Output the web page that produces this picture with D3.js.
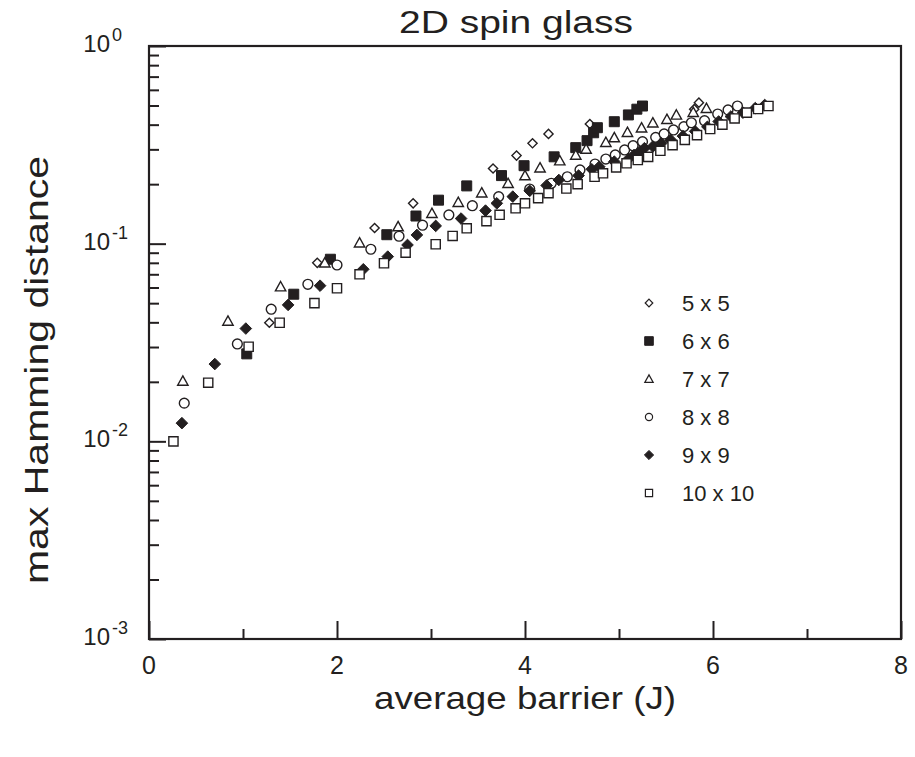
<!DOCTYPE html>
<html>
<head>
<meta charset="utf-8">
<script src="https://cdn.jsdelivr.net/npm/d3@7"></script>
<style>
  html, body { margin: 0; padding: 0; background: #fff; }
  svg { display: block; font-family: "Liberation Sans", Arial, sans-serif; }
</style>
</head>
<body>
<svg id="chart" width="915" height="757"></svg>
<script>
// ---------- data ----------
const seriesNames = ["5 x 5", "6 x 6", "7 x 7", "8 x 8", "9 x 9", "10 x 10"];

const x5 = [1.28, 1.79, 2.40, 2.81, 3.66, 3.91, 4.08, 4.25, 4.69, 5.80, 5.85];
const y5 = [0.0398, 0.080, 0.120, 0.160, 0.240, 0.279, 0.322, 0.359, 0.403, 0.479, 0.517];

const x6 = [1.04, 1.54, 1.93, 2.53, 2.84, 3.08, 3.38, 3.75, 3.99, 4.31, 4.54, 4.66, 4.73, 4.77, 4.95, 5.10, 5.19, 5.25];
const y6 = [0.0277, 0.0555, 0.0834, 0.111, 0.138, 0.166, 0.196, 0.221, 0.248, 0.275, 0.306, 0.332, 0.364, 0.386, 0.414, 0.448, 0.479, 0.497];

const x7 = [0.36, 0.84, 1.40, 1.87, 2.24, 2.65, 3.01, 3.29, 3.54, 3.82, 4.00, 4.16, 4.37, 4.54, 4.65, 4.86, 4.95, 5.09, 5.24, 5.36, 5.51, 5.61, 5.79, 5.93];
const y7 = [0.0202, 0.0406, 0.0606, 0.080, 0.101, 0.122, 0.1425, 0.162, 0.181, 0.202, 0.221, 0.242, 0.263, 0.281, 0.301, 0.326, 0.344, 0.366, 0.386, 0.409, 0.426, 0.448, 0.462, 0.484];

const x8 = [0.375, 0.94, 1.30, 1.69, 2.00, 2.36, 2.66, 2.91, 3.19, 3.44, 3.72, 4.05, 4.28, 4.45, 4.585, 4.745, 4.86, 4.96, 5.06, 5.15, 5.25, 5.39, 5.48, 5.58, 5.69, 5.77, 5.91, 6.05, 6.16, 6.26];
const y8 = [0.0156, 0.0311, 0.0466, 0.0623, 0.078, 0.0937, 0.109, 0.124, 0.1397, 0.1556, 0.173, 0.189, 0.202, 0.218, 0.236, 0.253, 0.268, 0.281, 0.298, 0.313, 0.328, 0.345, 0.359, 0.376, 0.391, 0.409, 0.419, 0.453, 0.475, 0.497];

const x9 = [0.35, 0.70, 1.03, 1.48, 1.82, 2.28, 2.54, 2.75, 2.85, 3.05, 3.32, 3.58, 3.70, 3.87, 4.05, 4.23, 4.36, 4.57, 4.71, 4.79, 4.95, 5.10, 5.16, 5.22, 5.27, 5.36, 5.45, 5.55, 5.68, 5.81, 5.94, 6.06, 6.19, 6.32, 6.45, 6.55];
const y9 = [0.01236, 0.0246, 0.0372, 0.049, 0.0613, 0.0742, 0.086, 0.0985, 0.1107, 0.123, 0.134, 0.147, 0.160, 0.173, 0.185, 0.197, 0.210, 0.221, 0.238, 0.245, 0.260, 0.268, 0.281, 0.292, 0.304, 0.310, 0.322, 0.335, 0.350, 0.370, 0.390, 0.415, 0.440, 0.460, 0.485, 0.503];

const x10 = [0.26, 0.63, 1.06, 1.39, 1.76, 2.00, 2.24, 2.50, 2.73, 3.05, 3.23, 3.38, 3.59, 3.73, 3.90, 4.00, 4.14, 4.25, 4.44, 4.56, 4.74, 4.83, 4.97, 5.08, 5.20, 5.31, 5.44, 5.57, 5.70, 5.83, 5.97, 6.10, 6.23, 6.36, 6.48, 6.59];
const y10 = [0.0100, 0.0198, 0.0301, 0.0398, 0.050, 0.0595, 0.070, 0.0796, 0.090, 0.0993, 0.1094, 0.1196, 0.130, 0.140, 0.151, 0.160, 0.170, 0.180, 0.190, 0.200, 0.218, 0.227, 0.243, 0.255, 0.265, 0.275, 0.295, 0.315, 0.335, 0.354, 0.380, 0.400, 0.430, 0.460, 0.480, 0.497];

const xMajorTicks = [0, 2, 4, 6, 8];
const xMinorTicks = [1, 3, 5, 7];
const yMajorExponents = [0, -1, -2, -3];

const titleText = "2D spin glass";
const xLabelText = "average barrier (J)";
const yLabelText = "max Hamming distance";

// ---------- layout ----------
const svg = d3.select("#chart");
const L = 149, R = 901, T = 46, B = 639;
const ink = "#231f20";

const x = d3.scaleLinear().domain([0, 8]).range([L, R]);
const y = d3.scaleLog().domain([1e-3, 1]).range([B, T]);

// minor y ticks
const yMinor = [];
for (let e = -3; e < 0; e++) for (let m = 2; m <= 9; m++) yMinor.push(m * Math.pow(10, e));
const yMajor = yMajorExponents.map(e => Math.pow(10, e));

// frame
svg.append("rect").attr("x", L).attr("y", T).attr("width", R - L).attr("height", B - T)
  .attr("fill", "none").attr("stroke", ink).attr("stroke-width", 2.2);

// axes (ticks pointing inward)
function styleAxis(g) {
  g.select(".domain").remove();
  g.selectAll(".tick line").attr("stroke", ink).attr("stroke-width", 2);
  g.selectAll(".tick text").remove();
}
svg.append("g").attr("transform", `translate(${L},0)`)
  .call(d3.axisLeft(y).tickValues(yMajor).tickSize(-17).tickFormat("")).call(styleAxis);
svg.append("g").attr("transform", `translate(${L},0)`)
  .call(d3.axisLeft(y).tickValues(yMinor).tickSize(-10).tickFormat("")).call(styleAxis);
svg.append("g").attr("transform", `translate(0,${B})`)
  .call(d3.axisBottom(x).tickValues(xMajorTicks).tickSize(-18).tickFormat("")).call(styleAxis);
svg.append("g").attr("transform", `translate(0,${B})`)
  .call(d3.axisBottom(x).tickValues(xMinorTicks).tickSize(-10).tickFormat("")).call(styleAxis);

// x tick labels
svg.append("g").selectAll("text").data(xMajorTicks).join("text")
  .attr("x", d => x(d)).attr("y", B + 35)
  .attr("text-anchor", "middle").attr("font-size", 25).attr("fill", ink)
  .text(d => d);

// y tick labels 10^n
const yl = svg.append("g").selectAll("g").data(yMajorExponents).join("g");
yl.append("text")
  .attr("x", 110).attr("y", d => y(Math.pow(10, d)) + 6)
  .attr("text-anchor", "end").attr("font-size", 24).attr("fill", ink)
  .text("10");
yl.append("text")
  .attr("x", 112).attr("y", d => y(Math.pow(10, d)) - 5)
  .attr("text-anchor", "start").attr("font-size", 18).attr("fill", ink)
  .text(d => d === 0 ? "0" : "-" + Math.abs(d));

// titles
svg.append("text").attr("x", 516).attr("y", 33).attr("text-anchor", "middle")
  .attr("font-size", 31).attr("fill", ink)
  .attr("textLength", 234).attr("lengthAdjust", "spacingAndGlyphs")
  .text(titleText);
svg.append("text").attr("x", 525).attr("y", 709).attr("text-anchor", "middle")
  .attr("font-size", 32).attr("fill", ink)
  .attr("textLength", 302).attr("lengthAdjust", "spacingAndGlyphs")
  .text(xLabelText);
svg.append("text").attr("transform", "translate(48,370) rotate(-90)").attr("text-anchor", "middle")
  .attr("font-size", 34).attr("fill", ink)
  .attr("textLength", 428).attr("lengthAdjust", "spacingAndGlyphs")
  .text(yLabelText);

// ---------- symbols ----------
function symPath(kind, s) {
  const p = d3.path();
  if (kind === "diamond") {
    p.moveTo(0, -s); p.lineTo(s, 0); p.lineTo(0, s); p.lineTo(-s, 0); p.closePath();
  } else if (kind === "square") {
    p.rect(-s, -s, 2 * s, 2 * s);
  } else if (kind === "triangle") {
    const h = s * 1.8;
    p.moveTo(0, -h * 0.55); p.lineTo(s, h * 0.45); p.lineTo(-s, h * 0.45); p.closePath();
  } else if (kind === "circle") {
    p.arc(0, 0, s, 0, 2 * Math.PI);
  }
  return p.toString();
}

const series = [
  { name: seriesNames[0], xs: x5, ys: y5, kind: "diamond", filled: false, s: 4.6, ls: 3.8 },
  { name: seriesNames[1], xs: x6, ys: y6, kind: "square", filled: true, s: 5, ls: 4.3 },
  { name: seriesNames[2], xs: x7, ys: y7, kind: "triangle", filled: false, s: 5.2, ls: 4.2 },
  { name: seriesNames[3], xs: x8, ys: y8, kind: "circle", filled: false, s: 4.9, ls: 3.6 },
  { name: seriesNames[4], xs: x9, ys: y9, kind: "diamond", filled: true, s: 5.8, ls: 4.6 },
  { name: seriesNames[5], xs: x10, ys: y10, kind: "square", filled: false, s: 4.6, ls: 3.6 }
];

const plot = svg.append("g");
series.forEach(sr => {
  const pts = sr.xs.map((v, i) => [v, sr.ys[i]]);
  plot.append("g").selectAll("path").data(pts).join("path")
    .attr("transform", d => `translate(${x(d[0])},${y(d[1])})`)
    .attr("d", symPath(sr.kind, sr.s))
    .attr("fill", sr.filled ? ink : "#fff")
    .attr("stroke", ink).attr("stroke-width", sr.filled ? 1 : 1.4);
});

// legend
const legY0 = 303, legDY = 38;
const leg = svg.append("g").selectAll("g").data(series).join("g")
  .attr("transform", (d, i) => `translate(649,${legY0 + i * legDY})`);
leg.append("path").attr("d", d => symPath(d.kind, d.ls))
  .attr("fill", d => d.filled ? ink : "#fff")
  .attr("stroke", ink).attr("stroke-width", d => d.filled ? 1 : 1.2);
leg.append("text").attr("x", 33).attr("y", 8).attr("font-size", 22).attr("fill", ink)
  .text(d => d.name);
</script>
</body>
</html>
